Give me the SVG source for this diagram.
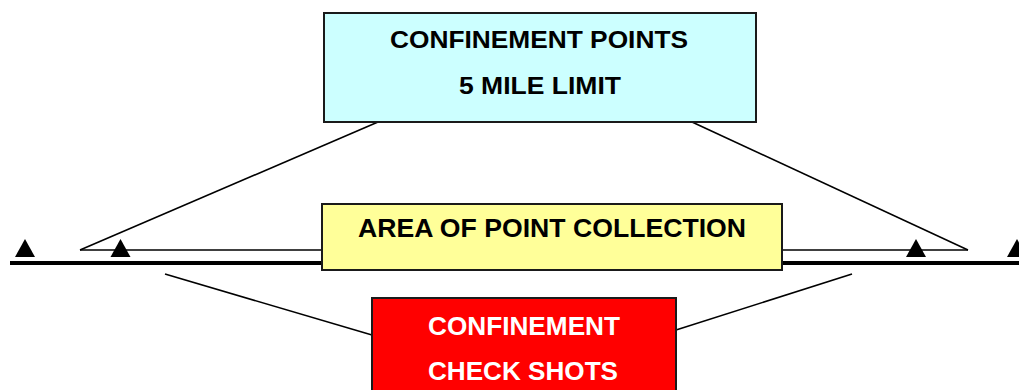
<svg xmlns="http://www.w3.org/2000/svg" width="1019" height="390" viewBox="0 0 1019 390">
<style>
.box{stroke:#1a1a1a;stroke-width:2}
.t{font-family:"Liberation Sans",Arial,sans-serif;font-weight:bold;text-anchor:middle}
.ln{stroke:#000;stroke-width:1.6;fill:none}
</style>
<defs>
<polygon id="tri" points="-10,8 0,-10 10,8" fill="#000"/>
</defs>
<rect width="1019" height="390" fill="#fff"/>
<g id="connectors">
<line class="ln" x1="378" y1="122" x2="80" y2="250"/>
<line class="ln" x1="692" y1="122" x2="968" y2="250"/>
<line class="ln" x1="80" y1="250" x2="322" y2="250"/>
<line class="ln" x1="783" y1="250" x2="968" y2="250"/>
<line x1="10" y1="263" x2="1019" y2="263" stroke="#000" stroke-width="4"/>
<line class="ln" x1="165" y1="274" x2="372" y2="335"/>
<line class="ln" x1="852" y1="274" x2="676" y2="330"/>
</g>
<g id="markers">
<use href="#tri" x="25" y="249"/>
<use href="#tri" x="120.5" y="249"/>
<use href="#tri" x="916" y="249"/>
<use href="#tri" x="1017" y="249"/>
</g>
<g id="confinement-points">
<rect class="box" x="324" y="13" width="432" height="109" fill="#ccffff"/>
<text class="t" x="539" y="48" font-size="23" fill="#000" textLength="298" lengthAdjust="spacingAndGlyphs">CONFINEMENT POINTS</text>
<text class="t" x="540" y="94" font-size="23" fill="#000" textLength="162" lengthAdjust="spacingAndGlyphs">5 MILE LIMIT</text>
</g>
<g id="area-of-point-collection">
<rect class="box" x="322" y="204" width="460" height="66" fill="#ffff99"/>
<text class="t" x="552" y="237" font-size="25" fill="#000" textLength="388" lengthAdjust="spacingAndGlyphs">AREA OF POINT COLLECTION</text>
</g>
<g id="confinement-check-shots">
<rect class="box" x="372" y="298" width="304" height="100" fill="#ff0000"/>
<text class="t" x="524" y="335" font-size="25" fill="#fff" textLength="192" lengthAdjust="spacingAndGlyphs">CONFINEMENT</text>
<text class="t" x="523" y="380" font-size="25" fill="#fff" textLength="190" lengthAdjust="spacingAndGlyphs">CHECK SHOTS</text>
</g>
</svg>
